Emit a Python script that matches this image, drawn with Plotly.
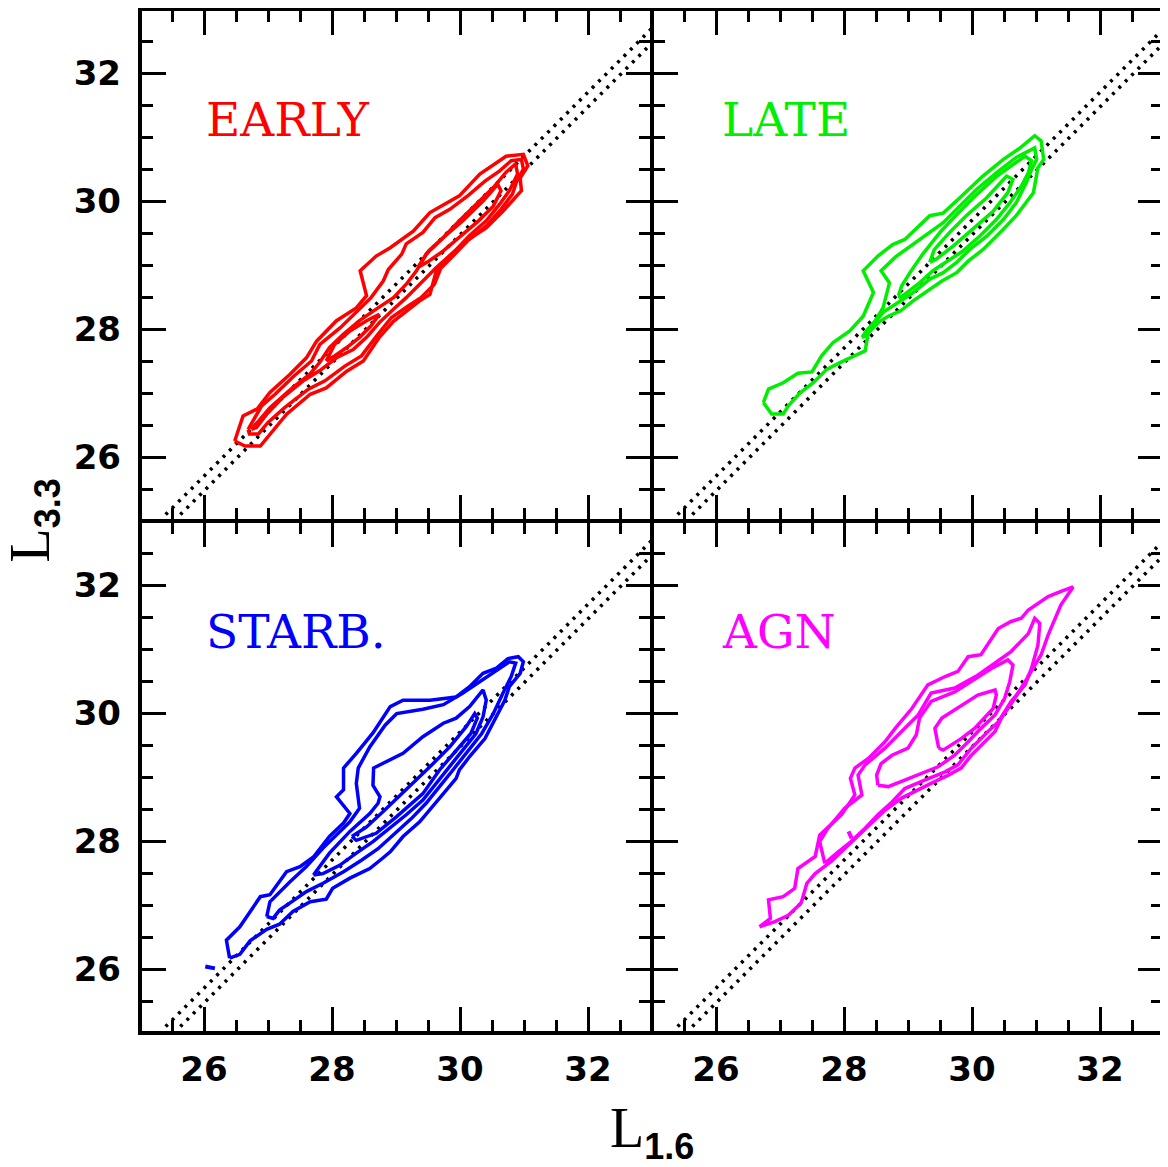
import plotly.graph_objects as go
from plotly.subplots import make_subplots

# ---- contour traces (x = L1.6, y = L3.3) ----
early_1_x = [26.48, 26.61, 26.83, 27.03, 27.34, 27.60, 27.76, 28.07, 28.38, 28.54, 28.44, 28.69, 28.91, 29.27, 29.53, 29.99, 30.31, 30.72, 30.99, 31.06, 30.94, 30.96, 30.67, 30.41, 30.10, 29.84, 29.63, 29.53, 29.37, 28.96, 28.74, 28.49, 28.23, 27.91, 27.66, 27.29, 26.88, 26.64]
early_1_y = [26.25, 26.64, 26.75, 27.01, 27.29, 27.55, 27.81, 28.13, 28.33, 28.52, 28.91, 29.14, 29.27, 29.53, 29.82, 30.08, 30.42, 30.70, 30.73, 30.55, 30.36, 30.16, 29.84, 29.58, 29.38, 29.14, 28.91, 28.54, 28.44, 28.12, 27.87, 27.50, 27.34, 27.08, 26.98, 26.67, 26.17, 26.17]
early_2_x = [26.69, 26.90, 27.11, 27.41, 27.68, 27.81, 28.13, 28.49, 28.61, 28.80, 28.88, 29.09, 29.16, 29.42, 29.61, 29.84, 30.12, 30.39, 30.62, 30.80, 30.96, 30.99, 30.88, 30.82, 30.64, 30.41, 30.12, 29.89, 29.70, 29.60, 29.39, 29.19, 28.93, 28.72, 28.46, 28.20, 27.89, 27.63, 27.26, 27.00, 26.85, 26.71]
early_2_y = [26.43, 26.80, 26.98, 27.27, 27.50, 27.76, 28.02, 28.36, 28.49, 28.75, 28.93, 29.17, 29.33, 29.51, 29.74, 29.87, 30.08, 30.31, 30.47, 30.63, 30.65, 30.50, 30.29, 30.11, 29.87, 29.61, 29.38, 29.14, 28.95, 28.70, 28.49, 28.36, 28.18, 27.92, 27.58, 27.42, 27.19, 27.06, 26.77, 26.54, 26.36, 26.36]
early_3_x = [26.74, 27.03, 27.39, 27.65, 27.81, 27.96, 28.18, 28.43, 28.69, 28.96, 29.16, 29.32, 29.47, 29.74, 29.99, 30.26, 30.52, 30.72, 30.87, 30.90, 30.77, 30.62, 30.41, 30.15, 29.92, 29.63, 29.37, 29.16, 28.96, 28.74, 28.54, 28.33, 28.07, 27.81, 27.55, 27.23, 26.98, 26.82]
early_3_y = [26.43, 26.77, 27.09, 27.29, 27.48, 27.71, 27.92, 28.13, 28.31, 28.49, 28.70, 28.91, 29.17, 29.43, 29.69, 29.95, 30.21, 30.45, 30.58, 30.42, 30.16, 29.95, 29.69, 29.46, 29.22, 28.96, 28.70, 28.49, 28.31, 28.10, 27.87, 27.68, 27.55, 27.35, 27.19, 26.93, 26.67, 26.46]
early_4_x = [27.91, 28.04, 28.28, 28.54, 28.74, 28.61, 28.43, 28.23, 28.04]
early_4_y = [27.50, 27.76, 27.97, 28.13, 28.23, 28.05, 27.87, 27.71, 27.58]
early_5_x = [29.34, 29.51, 29.74, 30.04, 30.36, 30.59, 30.64, 30.52, 30.29, 29.99, 29.74, 29.51]
early_5_y = [28.96, 29.22, 29.43, 29.69, 30.00, 30.26, 30.16, 29.92, 29.69, 29.43, 29.22, 29.06]

late_1_x = [26.74, 26.82, 27.05, 27.28, 27.50, 27.65, 27.83, 28.09, 28.30, 28.46, 28.30, 28.53, 28.76, 28.95, 29.34, 29.55, 29.81, 30.17, 30.49, 30.74, 30.98, 31.08, 31.12, 31.03, 30.96, 30.69, 30.49, 30.17, 29.94, 29.76, 29.53, 29.34, 29.08, 28.88, 28.71, 28.56, 28.38, 28.33, 28.15, 27.93, 27.73, 27.52, 27.31, 27.13, 27.05, 26.87]
late_1_y = [26.85, 27.06, 27.16, 27.31, 27.33, 27.58, 27.79, 27.97, 28.20, 28.57, 28.91, 29.14, 29.32, 29.40, 29.77, 29.81, 30.05, 30.39, 30.65, 30.82, 31.02, 30.94, 30.65, 30.52, 30.13, 29.77, 29.56, 29.24, 29.06, 28.88, 28.75, 28.62, 28.44, 28.28, 28.21, 28.12, 27.94, 27.66, 27.58, 27.47, 27.37, 27.16, 27.00, 26.80, 26.67, 26.67]
late_2_x = [28.28, 28.35, 28.48, 28.61, 28.71, 28.58, 28.81, 29.08, 29.34, 29.55, 29.76, 30.07, 30.38, 30.69, 30.98, 31.01, 30.93, 30.85, 30.69, 30.49, 30.23, 29.96, 29.76, 29.55, 29.34, 29.08, 28.81, 28.61, 28.46, 28.35]
late_2_y = [27.87, 27.97, 28.12, 28.33, 28.72, 28.91, 29.13, 29.32, 29.51, 29.66, 29.87, 30.18, 30.44, 30.68, 30.83, 30.65, 30.49, 30.29, 29.97, 29.71, 29.45, 29.24, 29.04, 28.88, 28.78, 28.57, 28.39, 28.26, 28.07, 27.89]
late_3_x = [28.85, 28.90, 29.03, 29.23, 29.50, 29.76, 30.07, 30.38, 30.64, 30.83, 30.93, 30.88, 30.77, 30.59, 30.38, 30.12, 29.86, 29.60, 29.39, 29.18, 28.98, 28.88]
late_3_y = [28.52, 28.67, 28.88, 29.17, 29.51, 29.79, 30.10, 30.38, 30.57, 30.70, 30.63, 30.44, 30.23, 29.97, 29.71, 29.45, 29.22, 29.04, 28.91, 28.72, 28.57, 28.49]
late_4_x = [29.34, 29.41, 29.65, 29.91, 30.23, 30.54, 30.64, 30.56, 30.33, 30.01, 29.71, 29.44]
late_4_y = [29.04, 29.24, 29.51, 29.77, 30.05, 30.39, 30.34, 30.13, 29.84, 29.56, 29.30, 29.09]

starb_1_x = [26.40, 26.35, 26.56, 26.88, 27.03, 27.29, 27.50, 27.71, 27.96, 28.18, 28.28, 28.07, 28.18, 28.18, 28.38, 28.64, 28.91, 29.11, 29.53, 29.94, 30.15, 30.36, 30.57, 30.75, 30.91, 30.99, 30.94, 30.77, 30.70, 30.54, 30.39, 30.15, 29.99, 29.94, 29.76, 29.58, 29.37, 29.11, 28.91, 28.79, 28.59, 28.28, 28.01, 27.91, 27.66, 27.39, 27.18, 26.98, 26.72, 26.56]
starb_1_y = [26.17, 26.45, 26.66, 27.13, 27.16, 27.52, 27.60, 27.75, 28.07, 28.28, 28.43, 28.69, 28.80, 29.14, 29.37, 29.69, 30.10, 30.20, 30.20, 30.25, 30.41, 30.62, 30.70, 30.85, 30.88, 30.80, 30.62, 30.41, 30.20, 29.89, 29.60, 29.32, 29.11, 28.98, 28.77, 28.54, 28.30, 28.07, 27.83, 27.73, 27.57, 27.42, 27.26, 27.09, 27.05, 26.90, 26.70, 26.62, 26.44, 26.23]
starb_2_x = [26.98, 27.03, 27.34, 27.60, 27.86, 28.07, 28.28, 28.43, 28.38, 28.41, 28.59, 28.83, 29.01, 29.42, 29.74, 30.04, 30.31, 30.57, 30.77, 30.87, 30.80, 30.67, 30.52, 30.34, 30.10, 29.89, 29.68, 29.47, 29.24, 28.98, 28.72, 28.46, 28.18, 27.86, 27.60, 27.34, 27.18, 27.08]
starb_2_y = [26.82, 27.05, 27.36, 27.60, 27.89, 28.09, 28.30, 28.51, 28.90, 29.14, 29.47, 29.81, 29.99, 30.06, 30.13, 30.31, 30.49, 30.67, 30.80, 30.78, 30.57, 30.31, 29.99, 29.68, 29.37, 29.11, 28.85, 28.59, 28.35, 28.12, 27.88, 27.70, 27.52, 27.34, 27.21, 27.03, 26.92, 26.79]
starb_3_x = [27.71, 27.96, 28.28, 28.59, 28.72, 28.75, 28.64, 28.65, 29.11, 29.42, 29.74, 29.94, 30.15, 30.36, 30.41, 30.36, 30.25, 30.04, 29.84, 29.63, 29.42, 29.16, 28.91, 28.64, 28.38, 28.12, 27.86]
starb_3_y = [27.47, 27.81, 28.15, 28.43, 28.59, 28.69, 28.87, 29.14, 29.37, 29.63, 29.84, 29.92, 30.10, 30.36, 30.20, 29.94, 29.68, 29.42, 29.16, 28.90, 28.64, 28.41, 28.20, 27.99, 27.81, 27.62, 27.49]
starb_4_x = [28.31, 28.54, 28.80, 29.16, 29.53, 29.84, 30.10, 30.23, 30.27, 30.17, 29.94, 29.68, 29.42, 29.01, 28.69, 28.38]
starb_4_y = [28.07, 28.22, 28.46, 28.80, 29.16, 29.47, 29.79, 29.99, 29.92, 29.68, 29.42, 29.11, 28.74, 28.38, 28.12, 28.01]
starb_bit_x = [26.02, 26.17]
starb_bit_y = [26.04, 26.01]

agn_1_x = [26.68, 26.85, 26.82, 27.05, 27.23, 27.28, 27.55, 27.62, 27.96, 28.17, 28.10, 28.17, 28.38, 28.64, 28.80, 29.06, 29.31, 29.58, 29.78, 29.94, 30.14, 30.41, 30.61, 30.77, 30.88, 31.19, 31.39, 31.58, 31.39, 31.29, 31.19, 31.08, 30.93, 30.83, 30.67, 30.46, 30.36, 30.14, 29.99, 29.83, 29.63, 29.36, 29.16, 28.90, 28.64, 28.43, 28.17, 27.96, 27.80, 27.55, 27.42, 27.33, 27.13, 26.92]
agn_1_y = [26.66, 26.79, 27.08, 27.13, 27.26, 27.57, 27.76, 28.09, 28.41, 28.72, 28.98, 29.14, 29.29, 29.55, 29.76, 30.07, 30.44, 30.57, 30.65, 30.88, 30.91, 31.32, 31.43, 31.48, 31.61, 31.82, 31.90, 31.97, 31.69, 31.45, 31.22, 30.91, 30.65, 30.49, 30.23, 29.92, 29.71, 29.50, 29.34, 29.14, 29.03, 28.90, 28.80, 28.67, 28.48, 28.28, 28.04, 27.83, 27.68, 27.49, 27.34, 27.03, 26.84, 26.74]
agn_2_x = [27.70, 27.62, 27.75, 28.01, 28.28, 28.22, 28.33, 28.64, 28.95, 29.16, 29.36, 29.73, 30.09, 30.31, 30.61, 30.88, 30.98, 31.06, 31.03, 30.93, 30.83, 30.61, 30.41, 30.25, 29.99, 29.78, 29.58, 29.26, 28.95, 28.75, 28.53, 28.33, 28.11, 27.91]
agn_2_y = [27.65, 27.99, 28.20, 28.51, 28.72, 29.03, 29.19, 29.45, 29.76, 29.97, 30.31, 30.39, 30.59, 30.75, 30.96, 31.24, 31.48, 31.40, 31.06, 30.70, 30.44, 30.18, 29.86, 29.71, 29.45, 29.19, 29.08, 28.95, 28.82, 28.61, 28.41, 28.20, 27.99, 27.83]
agn_3_x = [28.53, 28.51, 28.58, 28.75, 29.00, 29.13, 29.18, 29.36, 29.73, 29.99, 30.31, 30.56, 30.64, 30.59, 30.51, 30.36, 30.14, 29.94, 29.73, 29.47, 29.16, 28.90, 28.69]
agn_3_y = [28.87, 29.03, 29.21, 29.34, 29.45, 29.66, 29.92, 30.18, 30.33, 30.49, 30.70, 30.83, 30.75, 30.49, 30.23, 29.97, 29.76, 29.55, 29.34, 29.16, 29.03, 28.93, 28.85]
agn_4_x = [29.48, 29.42, 29.53, 29.83, 30.09, 30.36, 30.38, 30.33, 30.19, 30.04, 29.83, 29.68, 29.55]
agn_4_y = [29.45, 29.76, 29.92, 30.12, 30.28, 30.36, 30.28, 30.07, 29.92, 29.76, 29.60, 29.50, 29.42]
agn_bit_x = [28.07, 28.12]
agn_bit_y = [28.15, 28.04]

# the two dotted reference lines
diag_a_x = [25.40, 33.00]
diag_a_y = [25.10, 32.70]
diag_b_x = [25.63, 33.00]
diag_b_y = [25.10, 32.47]

labels = ["EARLY", "LATE", "STARB.", "AGN"]
colors = ["#ff0000", "#00ee00", "#0000ff", "#ff00ff"]

panels = [
    (1, 1, [(early_1_x, early_1_y), (early_2_x, early_2_y), (early_3_x, early_3_y),
            (early_4_x, early_4_y), (early_5_x, early_5_y)], []),
    (1, 2, [(late_1_x, late_1_y), (late_2_x, late_2_y), (late_3_x, late_3_y),
            (late_4_x, late_4_y)], []),
    (2, 1, [(starb_1_x, starb_1_y), (starb_2_x, starb_2_y), (starb_3_x, starb_3_y),
            (starb_4_x, starb_4_y)], [(starb_bit_x, starb_bit_y)]),
    (2, 2, [(agn_1_x, agn_1_y), (agn_2_x, agn_2_y), (agn_3_x, agn_3_y),
            (agn_4_x, agn_4_y)], [(agn_bit_x, agn_bit_y)]),
]

fig = make_subplots(rows=2, cols=2, horizontal_spacing=0, vertical_spacing=0)

for i, (r, c, loops, bits) in enumerate(panels):
    col = colors[i]
    for dx, dy in [(diag_a_x, diag_a_y), (diag_b_x, diag_b_y)]:
        fig.add_trace(go.Scatter(x=dx, y=dy, mode="lines",
                                 line=dict(color="black", width=3.5, dash="3px,6px")),
                      row=r, col=c)
    for xs, ys in loops:
        fig.add_trace(go.Scatter(x=xs + xs[:1], y=ys + ys[:1], mode="lines",
                                 line=dict(color=col, width=3.5)),
                      row=r, col=c)
    for xs, ys in bits:
        fig.add_trace(go.Scatter(x=xs, y=ys, mode="lines",
                                 line=dict(color=col, width=4)),
                      row=r, col=c)
    n = "" if i == 0 else str(i + 1)
    fig.add_annotation(x=26.0 if c == 1 else 26.06, y=31.28, xref="x" + n, yref="y" + n,
                       text=labels[i], showarrow=False, xanchor="left", yanchor="middle",
                       font=dict(family="DejaVu Serif", size=47, color=col))
    # panel frame (drawn as a shape so shared edges don't double up)
    fig.add_shape(type="rect", xref="x" + n + " domain", yref="y" + n + " domain",
                  x0=0, x1=1, y0=0, y1=1, layer="above",
                  line=dict(color="black", width=4))

axis_style = dict(range=[25, 33], tick0=26, dtick=2, ticks="inside", ticklen=26,
                  tickwidth=3, tickcolor="black", showline=False,
                  mirror="ticks", showgrid=False, zeroline=False,
                  minor=dict(tick0=25, dtick=0.5, ticks="inside", ticklen=13,
                             tickwidth=3, tickcolor="black"),
                  tickfont=dict(family="DejaVu Sans", size=34, color="black", weight="bold"))

fig.update_xaxes(**axis_style, ticklabelstandoff=13)
fig.update_yaxes(**axis_style, ticklabelstandoff=18)
fig.update_xaxes(showticklabels=False, row=1)
fig.update_yaxes(showticklabels=False, col=2)

sub_style = "font-family:Liberation Sans;font-weight:bold;font-size:36px"
fig.add_annotation(x=0.5, y=-0.097, xref="paper", yref="paper", showarrow=False,
                   xanchor="center", yanchor="middle",
                   text="L<sub><span style='" + sub_style + "'>1.6</span></sub>",
                   font=dict(family="Liberation Serif", size=56, color="black"))
fig.add_annotation(x=-0.104, y=0.5, xref="paper", yref="paper", showarrow=False,
                   xanchor="center", yanchor="middle", textangle=-90,
                   text="L<sub><span style='" + sub_style + "'>3.3</span></sub>",
                   font=dict(family="Liberation Serif", size=56, color="black"))

# the page adds an 8 px body margin, so the figure is sized to land the
# 1024 px plot square where the original has it
fig.update_layout(width=1159, height=1159, showlegend=False,
                  margin=dict(l=132, r=3, t=1, b=134),
                  paper_bgcolor="white", plot_bgcolor="white")

fig.write_html("out.html")
